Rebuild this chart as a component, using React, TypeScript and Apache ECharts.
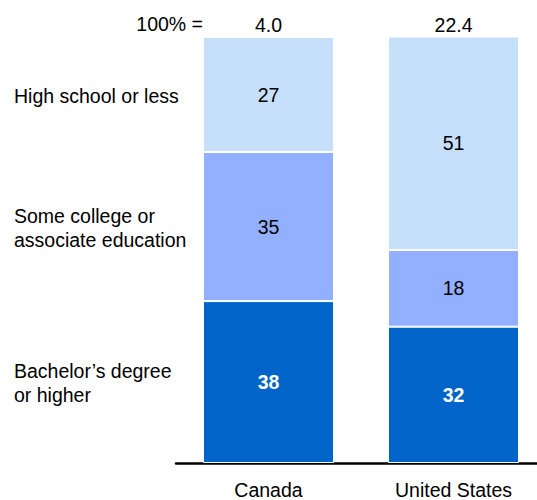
import React, { useEffect, useRef } from "react";
import * as echarts from "echarts";

const countries = ["Canada", "United States"];
const totals = ["4.0", "22.4"];
const totalPrefix = "100% =";
// stacked from bottom to top
const segmentNames = ["Bachelor’s degree\nor higher", "Some college or\nassociate education", "High school or less"];
const bachelor = [38, 32];
const someCollege = [35, 18];
const highSchool = [27, 51];
const colors = ["#0064C9", "#92B0FF", "#C6DFFA"];
const labelColors = ["#FFFFFF", "#000000", "#000000"];

const FONT = "Arial, 'Liberation Sans', Helvetica, sans-serif";
const FS = 19.5;
const GRID_TOP = 37;
const GRID_BOTTOM = 37;
const H = 500;

export default function App() {
  const ref = useRef<HTMLDivElement>(null);
  useEffect(() => {
    if (!ref.current) return;
    const chart = echarts.init(ref.current, undefined, { renderer: "svg" });
    const values = [bachelor, someCollege, highSchool];
    const gridH = H - GRID_TOP - GRID_BOTTOM;
    // left-side labels centered on the Canada segments
    let cum = 0;
    const sideLabels = values.map((arr, i) => {
      const mid = cum + arr[0] / 2;
      cum += arr[0];
      return {
        type: "text",
        left: 14,
        top: GRID_TOP + gridH * (1 - mid / 100) - (segmentNames[i].includes("\n") ? 23 : 11),
        style: {
          text: segmentNames[i],
          font: `${FS}px ${FONT}`,
          fill: "#000",
          lineHeight: 24,
        },
      };
    });
    chart.setOption({
      animation: false,
      grid: {
        left: 176,
        width: 370,
        top: GRID_TOP,
        bottom: GRID_BOTTOM,
        containLabel: false,
        outerBoundsMode: "none",
      },
      xAxis: [
        {
          type: "category",
          data: countries,
          position: "bottom",
          axisLine: { show: true, lineStyle: { color: "#000", width: 2.5 } },
          axisTick: { show: false },
          axisLabel: { color: "#000", fontSize: FS, fontFamily: FONT, margin: 18, lineHeight: 18 },
        },
        {
          type: "category",
          data: totals,
          position: "top",
          axisLine: { show: false },
          axisTick: { show: false },
          axisLabel: { color: "#000", fontSize: FS, fontFamily: FONT, margin: 2 },
        },
      ],
      yAxis: { type: "value", min: 0, max: 100, show: false },
      series: values.map((arr, i) => ({
        type: "bar",
        name: segmentNames[i],
        stack: "total",
        barWidth: 131,
        data: arr,
        itemStyle: { color: colors[i], borderColor: "#FFFFFF", borderWidth: 1 },
        label: {
          show: true,
          position: "inside",
          color: labelColors[i],
          fontSize: FS,
          fontFamily: FONT,
          fontWeight: i === 0 ? "bold" : "normal",
        },
      })),
      graphic: [
        {
          type: "text",
          right: 537 - 203,
          top: 14,
          style: { text: totalPrefix, font: `${FS}px ${FONT}`, fill: "#000" },
        },
        ...sideLabels,
      ],
    });
    return () => chart.dispose();
  }, []);
  return (
    <div
      ref={ref}
      style={{ position: "fixed", left: 0, top: 0, width: 537, height: 500, background: "#fff" }}
    />
  );
}
